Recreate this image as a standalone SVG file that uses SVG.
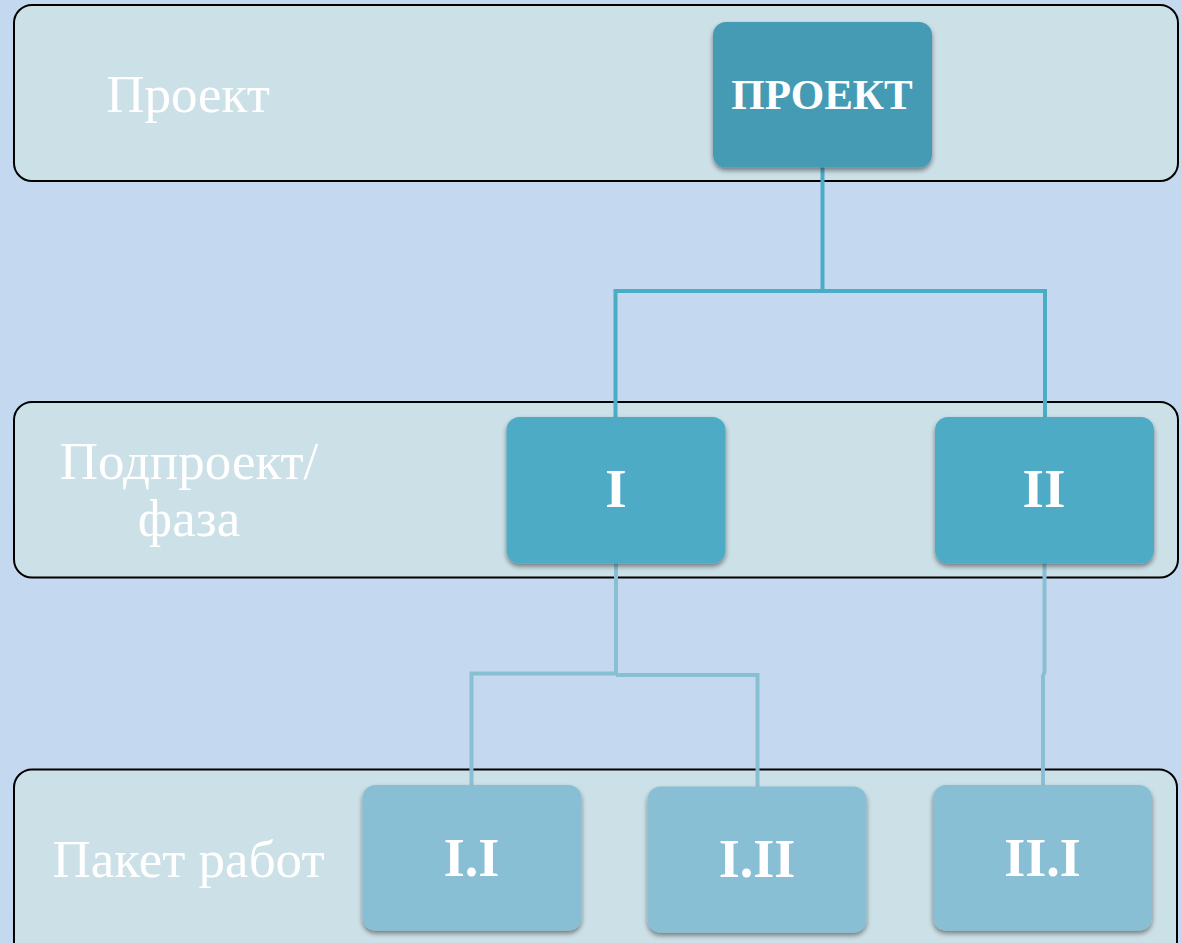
<svg xmlns="http://www.w3.org/2000/svg" width="1182" height="943" viewBox="0 0 1182 943">
<defs>
<filter id="sh" x="-10%" y="-10%" width="120%" height="130%">
<feGaussianBlur in="SourceAlpha" stdDeviation="2.5"/>
<feOffset dx="0" dy="3" result="b"/>
<feComponentTransfer><feFuncA type="linear" slope="0.45"/></feComponentTransfer>
<feMerge><feMergeNode/><feMergeNode in="SourceGraphic"/></feMerge>
</filter>
</defs>
<style>
.band{fill:#CCE0E7;stroke:#000;stroke-width:2}
.lbl{font-family:"Liberation Serif","Times New Roman",serif;font-size:53px;fill:#fff;text-anchor:middle}
.nt{font-family:"Liberation Serif","Times New Roman",serif;font-weight:bold;fill:#fff;text-anchor:middle}
.c1{fill:none;stroke:#4BACC6;stroke-width:4}
.c2{fill:none;stroke:#89BFD3;stroke-width:4}
.n0{fill:#449BB4;filter:url(#sh)}
.n1{fill:#4EABC6;filter:url(#sh)}
.n2{fill:#89BFD4;filter:url(#sh)}
</style>
<rect width="1182" height="943" fill="#C4D8EF"/>
<g id="bands">
<rect class="band" x="14" y="5" width="1164" height="176" rx="18"/>
<rect class="band" x="14" y="402" width="1164" height="175.5" rx="18"/>
<rect class="band" x="14" y="769.5" width="1163" height="200" rx="18"/>
<text class="lbl" x="188" y="112">Проект</text>
<text class="lbl" x="189" y="479">Подпроект/</text>
<text class="lbl" x="189" y="536">фаза</text>
<text class="lbl" x="188.5" y="877">Пакет работ</text>
</g>
<g id="connectors">
<polyline class="c1" points="822.5,165 822.5,291 615.5,291 615.5,420"/>
<polyline class="c1" points="822.5,291 1045,291 1045,420"/>
<polyline class="c2" points="616,560 616,673.5 471.5,673.5 471.5,788"/>
<polyline class="c2" points="616,675 757.5,675 757.5,789"/>
<polyline class="c2" points="1044.5,560 1044.5,672 1043,676 1043,788"/>
</g>
<g id="n-project">
<rect class="n0" x="713" y="22" width="219" height="145.5" rx="13"/>
<text class="nt" x="822" y="109" font-size="43">ПРОЕКТ</text>
</g>
<g id="n-I">
<rect class="n1" x="506.5" y="417" width="219" height="146.5" rx="13"/>
<text class="nt" x="616" y="507" font-size="55">I</text>
</g>
<g id="n-II">
<rect class="n1" x="935" y="417" width="219" height="146.5" rx="13"/>
<text class="nt" x="1044" y="507" font-size="55">II</text>
</g>
<g id="n-I-I">
<rect class="n2" x="362.5" y="785" width="219" height="145.5" rx="13"/>
<text class="nt" x="471.5" y="876" font-size="54">I.I</text>
</g>
<g id="n-I-II">
<rect class="n2" x="647.5" y="786.5" width="219" height="146" rx="13"/>
<text class="nt" x="757" y="877" font-size="54">I.II</text>
</g>
<g id="n-II-I">
<rect class="n2" x="933" y="785" width="219" height="145.5" rx="13"/>
<text class="nt" x="1042.5" y="876" font-size="54">II.I</text>
</g>
</svg>
